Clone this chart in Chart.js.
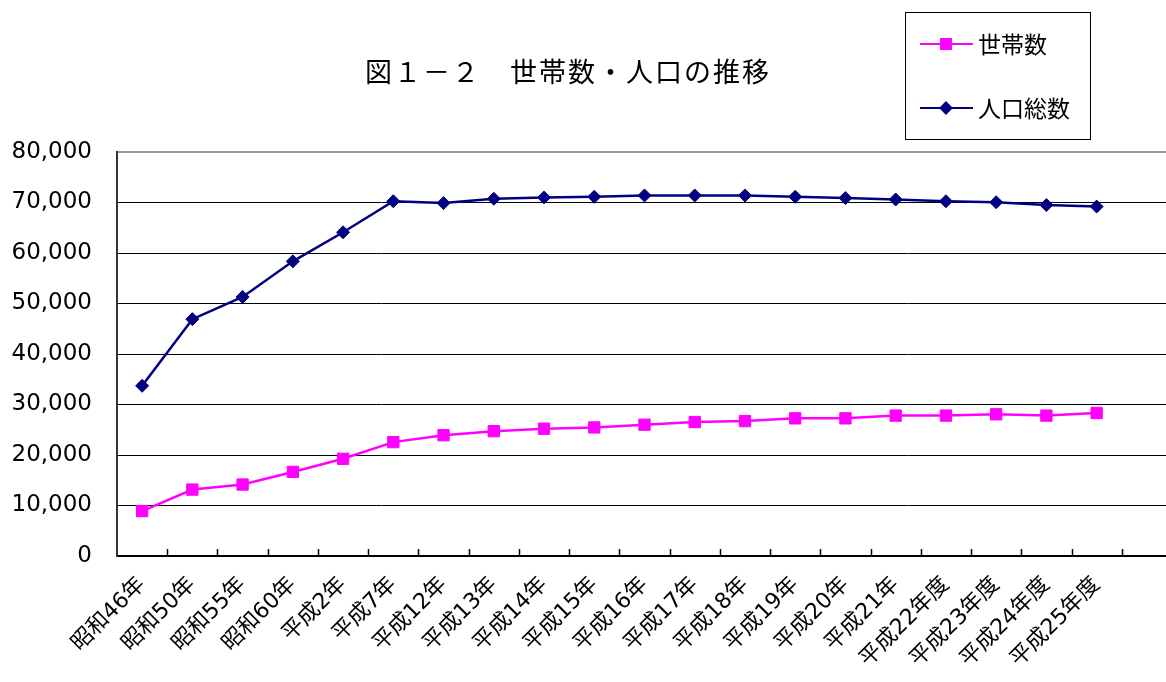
<!DOCTYPE html>
<html lang="ja">
<head>
<meta charset="UTF-8">
<title>世帯数・人口の推移</title>
<script src="https://cdn.jsdelivr.net/npm/chart.js@4.4.0/dist/chart.umd.min.js"></script>
<style>
  html, body { margin: 0; padding: 0; background: #fff; overflow: hidden; }
  #wrap { width: 1181px; height: 682px; }
</style>
</head>
<body>
<div id="wrap"><canvas id="chart"></canvas></div>
<script>
// categories (last slot is an empty one, as in the original sheet)
var categories = ['昭和46年', '昭和50年', '昭和55年', '昭和60年', '平成2年', '平成7年',
  '平成12年', '平成13年', '平成14年', '平成15年', '平成16年', '平成17年', '平成18年',
  '平成19年', '平成20年', '平成21年', '平成22年度', '平成23年度', '平成24年度', '平成25年度', ''];

var households = [8900, 13150, 14150, 16650, 19250, 22550, 23920, 24720, 25200, 25460,
  26000, 26520, 26720, 27260, 27260, 27800, 27800, 28060, 27800, 28320];

var population = [33700, 46900, 51300, 58350, 64100, 70250, 69880, 70740, 71000, 71130,
  71390, 71390, 71390, 71130, 70870, 70600, 70250, 70050, 69500, 69200];

var yTicks = [0, 10000, 20000, 30000, 40000, 50000, 60000, 70000, 80000];

var chartTitle = '図１－２　世帯数・人口の推移';

var CJK = '"Noto Sans CJK JP", sans-serif';
var NUM = '"DejaVu Sans", "Noto Sans CJK JP", sans-serif';

// title, legend box and the inward tick marks of the category axis
var deco = {
  id: 'deco',
  afterDraw: function (chart) {
    var c = chart.ctx, a = chart.chartArea, xs = chart.scales.x;
    c.save();

    c.strokeStyle = '#000';
    c.lineWidth = 1.5;
    var half = (xs.getPixelForValue(1) - xs.getPixelForValue(0)) / 2;
    for (var i = 1; i < categories.length; i++) {
      var px = Math.round(xs.getPixelForValue(i) - half) + 0.5;
      c.beginPath();
      c.moveTo(px, a.bottom);
      c.lineTo(px, a.bottom - 7);
      c.stroke();
    }

    c.fillStyle = '#000';
    c.font = '27px ' + CJK;
    c.letterSpacing = '2px';
    c.textAlign = 'left';
    c.textBaseline = 'middle';
    c.fillText(chartTitle, 365, 72);
    c.letterSpacing = '0px';

    // legend
    c.lineWidth = 1;
    c.strokeStyle = '#000';
    c.strokeRect(905.5, 12.5, 185, 127);
    var rows = [44, 108];
    chart.data.datasets.forEach(function (ds, k) {
      var y = rows[k];
      c.strokeStyle = ds.borderColor;
      c.lineWidth = 2;
      c.beginPath();
      c.moveTo(920, y);
      c.lineTo(973, y);
      c.stroke();
      c.fillStyle = ds.backgroundColor;
      Chart.helpers.drawPoint(c, {
        pointStyle: ds.pointStyle,
        radius: k === 0 ? 7 : 5.5,
        rotation: 0,
        borderWidth: 1
      }, 946, y);
      c.fillStyle = '#000';
      c.font = '23px ' + CJK;
      c.textAlign = 'left';
      c.fillText(ds.label, 978, y);
    });

    c.restore();
  }
};

new Chart(document.getElementById('chart'), {
  type: 'line',
  data: {
    labels: categories,
    datasets: [{
      label: '世帯数',
      data: households,
      borderColor: '#FF00FF',
      backgroundColor: '#FF00FF',
      borderWidth: 2.5,
      pointStyle: 'rect',
      pointRadius: 8,
      pointBorderWidth: 1,
      tension: 0
    }, {
      label: '人口総数',
      data: population,
      borderColor: '#000080',
      backgroundColor: '#000080',
      borderWidth: 2.5,
      pointStyle: 'rectRot',
      pointRadius: 6.5,
      pointBorderWidth: 1,
      tension: 0
    }]
  },
  options: {
    responsive: true,
    maintainAspectRatio: false,
    animation: false,
    layout: { padding: { top: 152, right: 1, left: 0, bottom: 0 } },
    plugins: {
      legend: { display: false },
      title: { display: false },
      tooltip: { enabled: false }
    },
    scales: {
      x: {
        type: 'category',
        offset: true,
        grid: { display: false },
        border: { display: true, color: '#000', width: 2 },
        ticks: {
          autoSkip: false,
          maxRotation: 45,
          minRotation: 45,
          padding: 8,
          color: '#000',
          font: { family: NUM, size: 22 }
        },
        afterFit: function (s) { s.height = 126; }
      },
      y: {
        min: 0,
        max: 80000,
        afterBuildTicks: function (s) {
          s.ticks = yTicks.map(function (v) { return { value: v }; });
        },
        grid: {
          drawTicks: false,
          lineWidth: function (ctx) { return ctx.tick && ctx.tick.value === 80000 ? 2 : 1; },
          color: function (ctx) { return ctx.tick && ctx.tick.value === 80000 ? '#999' : '#000'; }
        },
        border: { display: true, color: '#333', width: 2 },
        ticks: {
          padding: 25,
          color: '#000',
          font: { family: NUM, size: 23 },
          callback: function (v) { return v.toLocaleString('en-US'); }
        },
        afterFit: function (s) { s.width = 117; }
      }
    }
  },
  plugins: [deco]
});
</script>
</body>
</html>
